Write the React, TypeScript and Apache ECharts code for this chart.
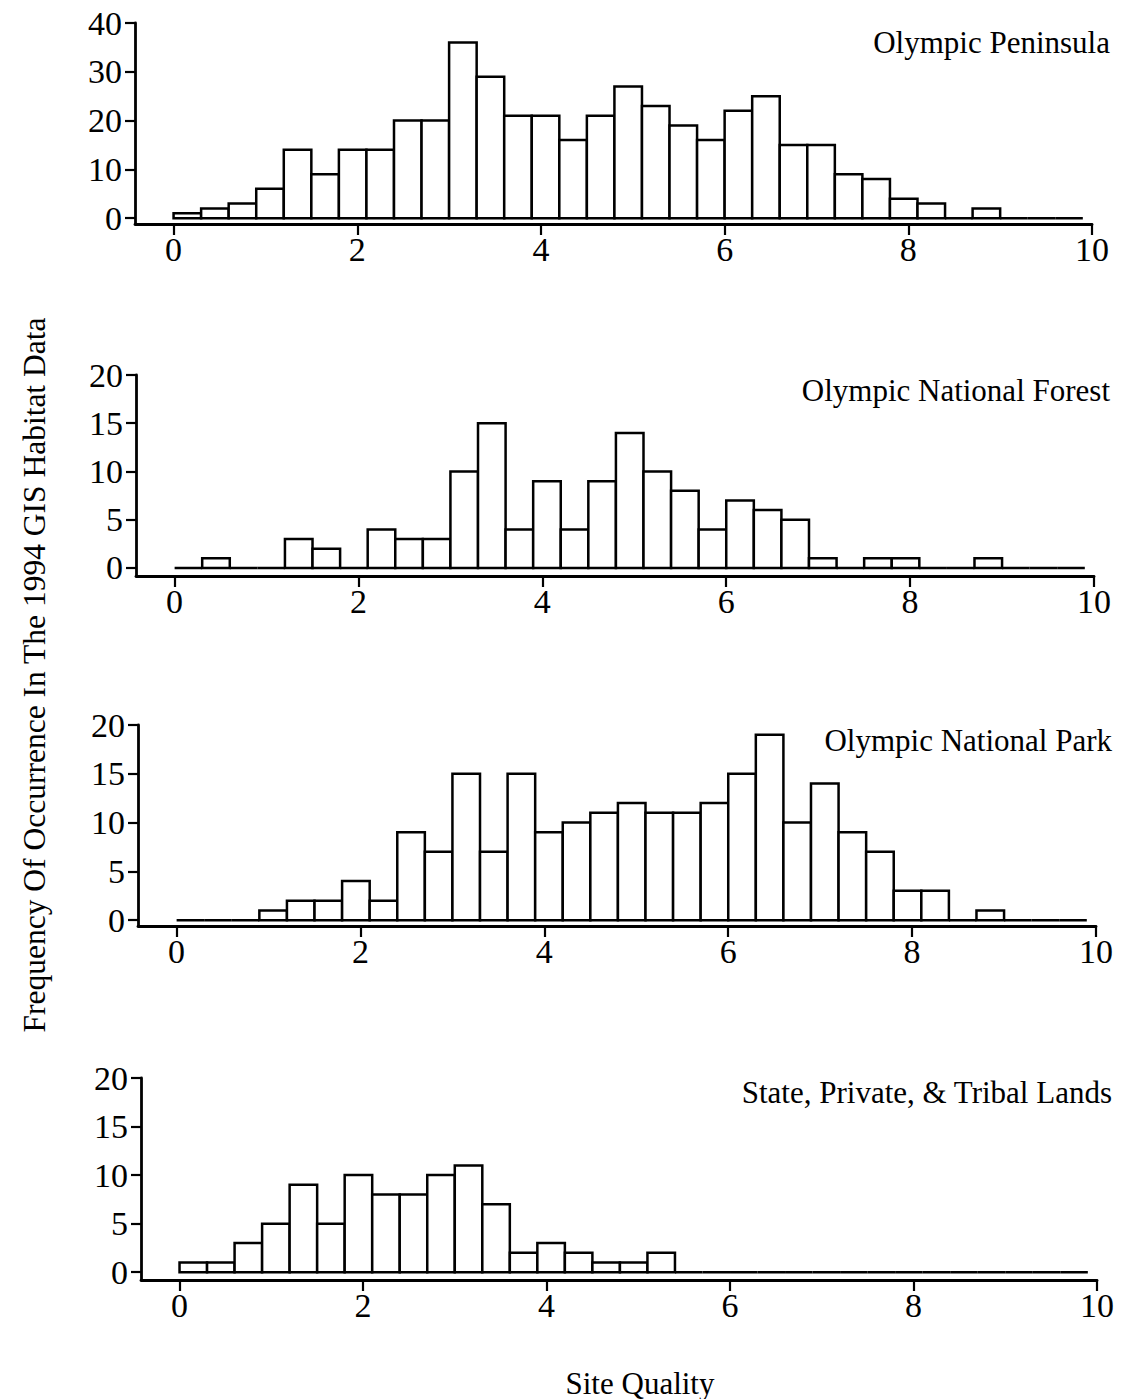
import React, { useEffect, useRef } from 'react';
import * as echarts from 'echarts';

// Bin starts (site quality), each bin is 0.3 wide
const binStarts = [0, 0.3, 0.6, 0.9, 1.2, 1.5, 1.8, 2.1, 2.4, 2.7, 3.0, 3.3, 3.6, 3.9, 4.2, 4.5, 4.8, 5.1, 5.4, 5.7, 6.0, 6.3, 6.6, 6.9, 7.2, 7.5, 7.8, 8.1, 8.4, 8.7, 9.0, 9.3, 9.6];
const binWidth = 0.3;

const olympicPeninsula = [1, 2, 3, 6, 14, 9, 14, 14, 20, 20, 36, 29, 21, 21, 16, 21, 27, 23, 19, 16, 22, 25, 15, 15, 9, 8, 4, 3, 0, 2, 0, 0, 0];
const nationalForest = [0, 1, 0, 0, 3, 2, 0, 4, 3, 3, 10, 15, 4, 9, 4, 9, 14, 10, 8, 4, 7, 6, 5, 1, 0, 1, 1, 0, 0, 1, 0, 0, 0];
const nationalPark = [0, 0, 0, 1, 2, 2, 4, 2, 9, 7, 15, 7, 15, 9, 10, 11, 12, 11, 11, 12, 15, 19, 10, 14, 9, 7, 3, 3, 0, 1, 0, 0, 0];
const tribalLands = [1, 1, 3, 5, 9, 5, 10, 8, 8, 10, 11, 7, 2, 3, 2, 1, 1, 2, 0, 0, 0, 0, 0, 0, 0, 0, 0, 0, 0, 0, 0, 0, 0];

const panelTitles = ['Olympic Peninsula', 'Olympic National Forest', 'Olympic National Park', 'State, Private, & Tribal Lands'];
const panelSeries = [olympicPeninsula, nationalForest, nationalPark, tribalLands];
const yTicksTop = [0, 10, 20, 30, 40];
const yTicksOther = [0, 5, 10, 15, 20];
const xTicks = [0, 2, 4, 6, 8, 10];
const yAxisTitle = 'Frequency Of Occurrence In The 1994 GIS Habitat Data';
const xAxisTitle = 'Site Quality';

const FONT = '"Liberation Serif", "Times New Roman", serif';

const layout = [
  { left: 135, rightEdge: 1092, top: 23, height: 201, yMin: -1.2, yMax: 40, ticks: yTicksTop, titleY: 42, titleX: 1110 },
  { left: 136, rightEdge: 1094, top: 375, height: 201, yMin: -0.83, yMax: 20, ticks: yTicksOther, titleY: 390, titleX: 1110 },
  { left: 138, rightEdge: 1096, top: 725, height: 201, yMin: -0.6, yMax: 20, ticks: yTicksOther, titleY: 740, titleX: 1112 },
  { left: 141, rightEdge: 1097, top: 1078, height: 202, yMin: -0.8, yMax: 20, ticks: yTicksOther, titleY: 1092, titleX: 1112 },
];

export default function App() {
  const ref = useRef<HTMLDivElement>(null);
  useEffect(() => {
    if (!ref.current) return;
    const chart = echarts.init(ref.current, undefined, { renderer: 'svg' });
    const grids = layout.map((l) => ({ left: l.left, width: l.rightEdge - l.left, top: l.top, height: l.height }));
    const xAxes = layout.map((l, i) => ({
      type: 'value',
      gridIndex: i,
      min: -0.42,
      max: 10,
      axisLine: { show: true, onZero: false, lineStyle: { color: '#000', width: 2.8 } },
      axisTick: { show: true, length: 11, customValues: xTicks, lineStyle: { color: '#000', width: 2.2 } },
      axisLabel: { show: true, customValues: xTicks, margin: 8, color: '#000', fontSize: 34, fontFamily: FONT },
      splitLine: { show: false },
    }));
    const yAxes = layout.map((l, i) => ({
      type: 'value',
      gridIndex: i,
      min: l.yMin,
      max: l.yMax,
      axisLine: { show: true, onZero: false, lineStyle: { color: '#000', width: 2.8 } },
      axisTick: { show: true, length: 10, customValues: l.ticks, lineStyle: { color: '#000', width: 2.2 } },
      axisLabel: { show: true, customValues: l.ticks, margin: 13, color: '#000', fontSize: 34, fontFamily: FONT },
      splitLine: { show: false },
    }));
    const series = panelSeries.map((vals, i) => ({
      type: 'custom',
      xAxisIndex: i,
      yAxisIndex: i,
      encode: { x: [0, 1], y: 2 },
      data: vals.map((v, k) => [binStarts[k], binStarts[k] + binWidth, v]),
      renderItem: (params: any, api: any) => {
        const x0 = api.value(0);
        const x1 = api.value(1);
        const v = api.value(2);
        const p0 = api.coord([x0, 0]);
        const p1 = api.coord([x1, v]);
        return {
          type: 'rect',
          shape: { x: p0[0], y: p1[1], width: p1[0] - p0[0], height: p0[1] - p1[1] },
          style: { fill: '#fff', stroke: '#000', lineWidth: 2.5 },
        };
      },
    }));
    const graphic: any[] = layout.map((l, i) => ({
      type: 'text',
      x: l.titleX,
      y: l.titleY,
      style: { text: panelTitles[i], align: 'right', verticalAlign: 'middle', font: `31px ${FONT}`, fill: '#000' },
    }));
    graphic.push({
      type: 'text',
      x: 34,
      y: 675,
      rotation: Math.PI / 2,
      style: { text: yAxisTitle, align: 'center', verticalAlign: 'middle', font: `31.5px ${FONT}`, fill: '#000' },
    });
    graphic.push({
      type: 'text',
      x: 640,
      y: 1383,
      style: { text: xAxisTitle, align: 'center', verticalAlign: 'middle', font: `31px ${FONT}`, fill: '#000' },
    });
    chart.setOption({
      animation: false,
      backgroundColor: '#fff',
      grid: grids,
      xAxis: xAxes,
      yAxis: yAxes,
      series,
      graphic,
    });
    return () => chart.dispose();
  }, []);
  return <div ref={ref} style={{ position: 'absolute', left: 0, top: 0, width: 1121, height: 1399 }} />;
}
